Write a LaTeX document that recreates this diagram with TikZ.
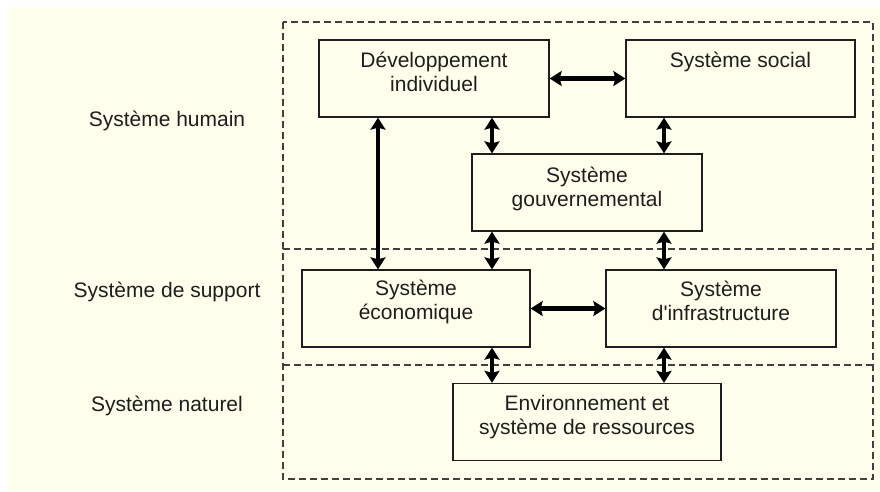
\documentclass[tikz,border=0pt]{standalone}
\usepackage{fontspec}
\setmainfont{Liberation Sans}
\usetikzlibrary{positioning,arrows.meta}
\definecolor{cream}{HTML}{FEFEEC}
\definecolor{ink}{HTML}{1E1E1E}

\begin{document}
\begin{tikzpicture}[x=1pt,y=-1pt,
  font=\fontsize{21}{24}\selectfont,text=ink,
  sysbox/.style={draw=ink,line width=1.3pt,fill=cream,inner sep=0pt,minimum height=77pt},
  boxlabel/.style={align=center,anchor=base,inner sep=0pt},
  biarrow/.style={{Stealth[length=12pt,width=15pt,inset=2pt]}-{Stealth[length=12pt,width=15pt,inset=2pt]},line width=4.2pt,draw=black},
  layerline/.style={draw=black!75,line width=1.2pt,dash pattern=on 7pt off 4pt}]
\useasboundingbox (0,0) rectangle (880,491);
\fill[white] (0,0) rectangle (880,491);
\fill[cream] (8,7) rectangle (880,490);

% layers
\draw[layerline] (283,22) rectangle (873,479);
\draw[layerline] (283,249) -- (873,249);
\draw[layerline] (283,365) -- (873,365);
\node (humain) at (167,126) [anchor=base] {Système humain};
\node (support) at (167,297) [anchor=base] {Système de support};
\node (naturel) at (167,411) [anchor=base] {Système naturel};

% boxes
\node[sysbox,minimum width=230pt] (dev) at (434,78.5) {};
\node[sysbox,minimum width=229pt] (social) at (740.5,78.5) {};
\node[sysbox,minimum width=230pt] (gouv) at (587,192.5) {};
\node[sysbox,minimum width=228pt] (eco) at (416,308.5) {};
\node[sysbox,minimum width=230pt] (infra) at (721,308.5) {};
\node[sysbox,minimum width=268pt] (env) at (587,422) {};

% texts (base = last line)
\node[boxlabel] (devtxt) at ([yshift=-52pt]dev.north) {Développement\\individuel};
\node[boxlabel] (socialtxt) at ([yshift=-28pt]social.north) {Système social};
\node[boxlabel] (gouvtxt) at ([yshift=-53pt]gouv.north) {Système\\gouvernemental};
\node[boxlabel] (ecotxt) at ([yshift=-50pt]eco.north) {Système\\économique};
\node[boxlabel] (infratxt) at ([yshift=-51pt]infra.north) {Système\\d\textquotesingle infrastructure};
\node[boxlabel] (envtxt) at ([yshift=-52pt]env.north) {Environnement et\\système de ressources};

% links
\coordinate (colA) at (378,0);
\coordinate (colL) at (492,0);
\coordinate (colR) at (664,0);
\draw[biarrow] (dev.east) -- (social.west);
\draw[biarrow] (eco.east) -- (infra.west);
\draw[biarrow] (dev.south -| colA) -- (eco.north -| colA);
\draw[biarrow] (dev.south -| colL) -- (gouv.north -| colL);
\draw[biarrow] (social.south -| colR) -- (gouv.north -| colR);
\draw[biarrow] (gouv.south -| colL) -- (eco.north -| colL);
\draw[biarrow] (gouv.south -| colR) -- (infra.north -| colR);
\draw[biarrow] (eco.south -| colL) -- (env.north -| colL);
\draw[biarrow] (infra.south -| colR) -- (env.north -| colR);
\end{tikzpicture}
\end{document}
